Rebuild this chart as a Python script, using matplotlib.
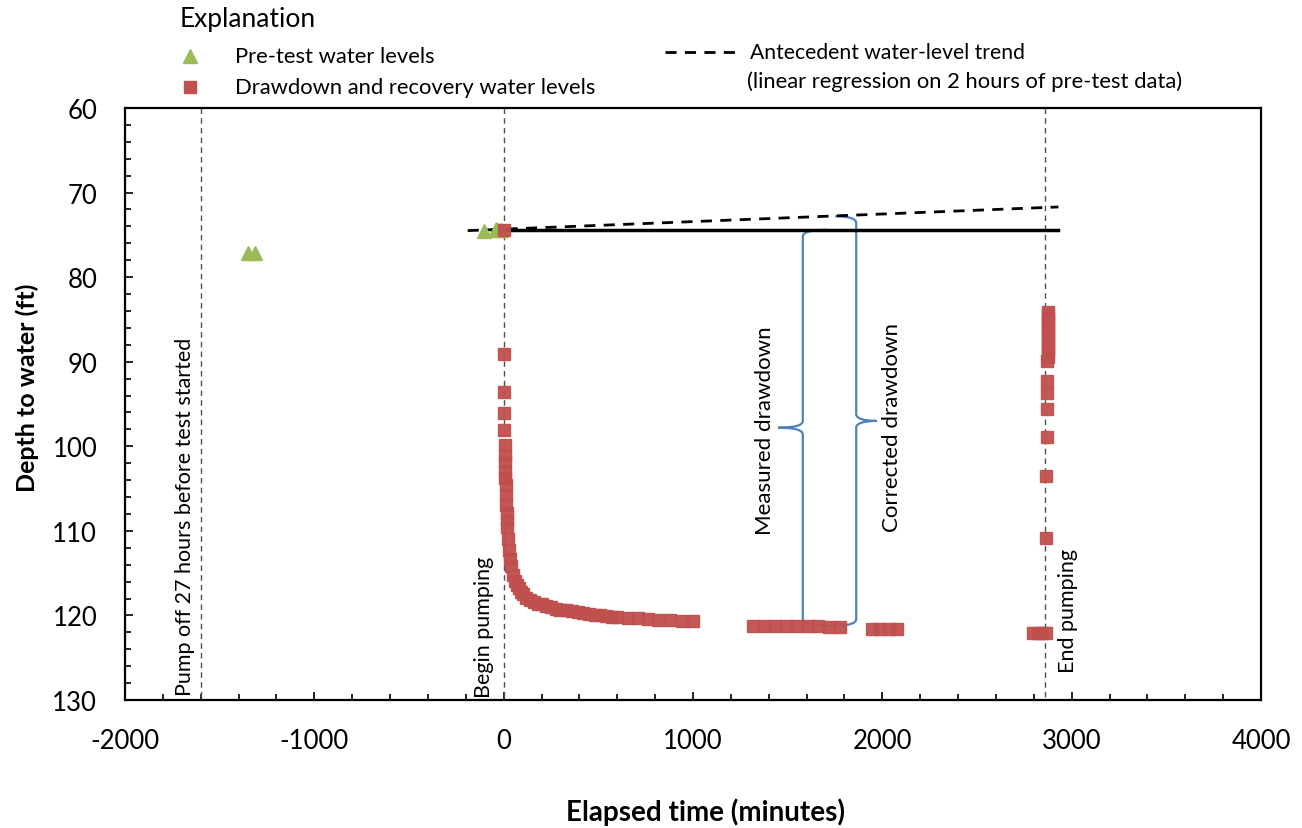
import numpy as np
import matplotlib
matplotlib.use('Agg')
import matplotlib.pyplot as plt
from matplotlib.lines import Line2D
from matplotlib.path import Path
from matplotlib.patches import PathPatch

plt.rcParams['font.family'] = ['Lato', 'DejaVu Sans']
plt.rcParams['axes.unicode_minus'] = False

# pre-test water levels (triangles)
pre_t = [-1350, -1315, -105, -40, -28, -15]
pre_y = [77.1, 77.1, 74.5, 74.35, 74.4, 74.4]

# drawdown and recovery water levels (squares)
dd_t = [0, 1, 2, 3, 4, 5, 6, 7, 8, 9, 10, 12, 14, 16, 18, 20, 25, 30, 35, 40,
        50, 60, 70, 80, 90, 100, 120, 140, 160, 180, 200, 225, 250, 275, 300,
        330, 360, 390, 420, 450, 480, 510, 540, 570, 600, 655, 710, 763, 816,
        879, 942, 1000,
        1317, 1375, 1432, 1490, 1547, 1605, 1662, 1720, 1777,
        1946, 1990, 2034, 2078,
        2797, 2820, 2843, 2865]
dd_y = [74.4, 89.1, 93.6, 96.1, 98.1, 99.8, 101.0, 101.9, 102.9, 103.8, 104.6,
        105.8, 106.9, 107.9, 108.7, 109.5, 111.0, 112.3, 113.3, 114.1,
        115.2, 115.9, 116.4, 116.8, 117.2, 117.5, 117.9, 118.2, 118.4, 118.6,
        118.7, 118.9, 119.0, 119.2, 119.3, 119.4, 119.5, 119.6, 119.7, 119.8,
        119.9, 120.0, 120.1, 120.15, 120.2, 120.3, 120.35, 120.4, 120.5,
        120.55, 120.6, 120.65,
        121.2, 121.2, 121.25, 121.25, 121.3, 121.3, 121.3, 121.35, 121.35,
        121.65, 121.65, 121.65, 121.65,
        122.1, 122.1, 122.1, 122.1]
rec_t = [2866, 2867, 2868, 2869, 2870, 2871, 2872, 2873, 2873, 2873, 2873,
         2873, 2873, 2873, 2873, 2874, 2874, 2874, 2874]
rec_y = [110.8, 103.5, 98.9, 95.6, 93.7, 92.3, 89.9, 89.4, 88.9, 88.4, 87.9,
         87.4, 86.9, 86.4, 85.9, 85.4, 84.9, 84.5, 84.1]

# antecedent trend (dashed) and static level (solid)
trend_t = [-190, 2930]
trend_y = [74.5, 71.7]
static_t = [-60, 2930]
static_y = [74.4, 74.4]

# event lines
event_t = [-1600, 0, 2860]

red = '#C0504D'
green = '#9BBB59'
blue = '#4F81BD'

fig = plt.figure(figsize=(13.02, 8.29), dpi=100)
ax = fig.add_axes([125/1302, 1-701/829, (1261-125)/1302, (701-109)/829])

for t in event_t:
    ax.plot([t, t], [60, 130], color='#505050', lw=1, ls=(0, (4, 3)))

ax.plot(trend_t, trend_y, color='black', lw=2, ls=(0, (4, 3)))
ax.plot(static_t, static_y, color='black', lw=2.5)
ax.plot(pre_t, pre_y, ls='none', marker='^', ms=9.5, color=green)
ax.plot(dd_t, dd_y, ls='none', marker='s', ms=8.5, color=red, alpha=0.95)
ax.plot(rec_t, rec_y, ls='none', marker='s', ms=8.5, color=red, alpha=0.95)

# braces
def brace(x, top, top_tip, mid, mid_tip, bot, bot_tip, r=0.8):
    verts = [(top_tip, top), (x, top), (x, top + r),
             (x, mid - r), (x, mid), (mid_tip, mid),
             (x, mid), (x, mid + r),
             (x, bot - r), (x, bot), (bot_tip, bot)]
    codes = [Path.MOVETO, Path.CURVE3, Path.CURVE3,
             Path.LINETO, Path.CURVE3, Path.CURVE3,
             Path.CURVE3, Path.CURVE3,
             Path.LINETO, Path.CURVE3, Path.CURVE3]
    ax.add_patch(PathPatch(Path(verts, codes), fill=False, ec=blue, lw=1.6))

brace(1580, 74.4, 1707, 97.8, 1450, 121.25, 1759)
brace(1862, 72.8, 1750, 97.0, 1972, 121.2, 1759)

ax.text(1380, 98.0, 'Measured drawdown', rotation=90, ha='center', va='center', fontsize=16)
ax.text(2052, 97.7, 'Corrected drawdown', rotation=90, ha='center', va='center', fontsize=16)
ax.text(-1683, 129.4, 'Pump off 27 hours before test started', rotation=90,
        ha='center', va='bottom', fontsize=15.5)
ax.text(-103, 129.6, 'Begin pumping', rotation=90, ha='center', va='bottom', fontsize=15.5)
ax.text(2981, 126.7, 'End pumping', rotation=90, ha='center', va='bottom', fontsize=15.5)

ax.set_xlim(-2000, 4000)
ax.set_ylim(130, 60)
ax.set_xticks(np.arange(-2000, 4001, 1000))
ax.set_xticks(np.arange(-2000, 4001, 200), minor=True)
ax.set_yticks(np.arange(60, 131, 10))
ax.set_yticks(np.arange(60, 131, 2), minor=True)
ax.tick_params(which='both', direction='in', width=1.2, labelsize=18.5)
ax.tick_params(which='major', length=6)
ax.tick_params(which='minor', length=4.5)
ax.tick_params(axis='x', which='major', pad=20)
ax.tick_params(axis='y', which='major', pad=20)
for s in ax.spines.values():
    s.set_linewidth(1.6)

fig.text(27/1302, 1-388/829, 'Depth to water (ft)', rotation=90, ha='center', va='center',
         fontsize=18, fontweight='bold')
fig.text(706/1302, 1-812/829, 'Elapsed time (minutes)', ha='center', va='center',
         fontsize=20, fontweight='bold')

# legend
tf = fig.transFigure
def fx(px):
    return px / 1302
def fy(py):
    return 1 - py / 829

fig.text(fx(180), fy(20), 'Explanation', ha='left', va='center', fontsize=19)
fig.add_artist(Line2D([fx(190)], [fy(57)], marker='^', ms=10, color=green, ls='none', transform=tf))
fig.text(fx(235), fy(57), 'Pre-test water levels', ha='left', va='center', fontsize=15.8)
fig.add_artist(Line2D([fx(190)], [fy(88)], marker='s', ms=8, color=red, ls='none', transform=tf))
fig.text(fx(235), fy(88), 'Drawdown and recovery water levels', ha='left', va='center', fontsize=15.8)
fig.add_artist(Line2D([fx(665), fx(740)], [fy(53), fy(53)], color='black', lw=2,
                      ls=(0, (4, 3)), transform=tf))
fig.text(fx(750), fy(53), 'Antecedent water-level trend', ha='left', va='center', fontsize=15.2)
fig.text(fx(747), fy(82), '(linear regression on 2 hours of pre-test data)', ha='left',
         va='center', fontsize=15.8)

fig.savefig('out.png', dpi=100)
